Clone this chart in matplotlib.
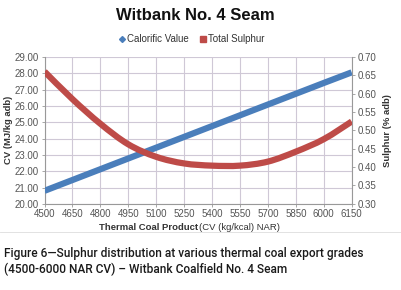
import matplotlib
matplotlib.use('Agg')
import matplotlib.pyplot as plt
from matplotlib.lines import Line2D
from matplotlib.path import Path
from matplotlib.patches import PathPatch

plt.rcParams['font.family'] = ['Liberation Sans', 'DejaVu Sans']

# values
cv_grades = [4500, 4650, 4800, 4950, 5100, 5250, 5400, 5550, 5700, 5850, 6000, 6150]
calorific = [20.80, 21.46, 22.12, 22.78, 23.44, 24.10, 24.76, 25.42, 26.08, 26.74, 27.40, 28.05]
sulphur = [0.660, 0.585, 0.518, 0.462, 0.428, 0.410, 0.404, 0.404, 0.415, 0.442, 0.476, 0.524]

blue = '#4a7ebb'
red = '#be4b48'
grid_col = '#cfc8d6'
tick_col = '#555555'


def smooth_path(xs, ys, t=1 / 6):
    # excel style "smoothed line": cubic bezier through every point
    verts = [(xs[0], ys[0])]
    codes = [Path.MOVETO]
    n = len(xs)
    for i in range(n - 1):
        x0, y0 = xs[max(i - 1, 0)], ys[max(i - 1, 0)]
        x1, y1 = xs[i], ys[i]
        x2, y2 = xs[i + 1], ys[i + 1]
        x3, y3 = xs[min(i + 2, n - 1)], ys[min(i + 2, n - 1)]
        verts += [(x1 + (x2 - x0) * t, y1 + (y2 - y0) * t),
                  (x2 - (x3 - x1) * t, y2 - (y3 - y1) * t),
                  (x2, y2)]
        codes += [Path.CURVE4] * 3
    return Path(verts, codes)


fig = plt.figure(figsize=(4.01, 2.90), dpi=100)
ax = fig.add_axes([0.111, 0.297, 0.766, 0.507])
ax2 = ax.twinx()

ax.plot(cv_grades, calorific, color=blue, lw=4.5, solid_capstyle='butt', zorder=3)
ax2.add_patch(PathPatch(smooth_path(cv_grades, sulphur), fill=False, edgecolor=red,
                        lw=4.5, capstyle='butt', joinstyle='round', zorder=3))

ax.set_xlim(4500, 6150)
ax.set_ylim(20, 29)
ax2.set_ylim(0.30, 0.70)
ax.set_xticks(cv_grades)
ax.set_yticks([20 + i for i in range(10)])
ax.set_yticklabels(['%.2f' % (20 + i) for i in range(10)])
ax2.set_yticks([0.30 + 0.05 * i for i in range(9)])
ax2.set_yticklabels(['%.2f' % (0.30 + 0.05 * i) for i in range(9)])

ax.grid(True, color=grid_col, lw=0.8)
ax.set_axisbelow(True)
for a in (ax, ax2):
    for s in a.spines.values():
        s.set_visible(False)
    a.tick_params(labelsize=7, colors='#999999', labelcolor=tick_col,
                  length=2.5, width=0.6, pad=1.5)
ax.spines['left'].set_visible(True)
ax.spines['left'].set_color('#999999')
ax.spines['bottom'].set_visible(True)
ax.spines['bottom'].set_color('#999999')
ax2.spines['right'].set_visible(True)
ax2.spines['right'].set_color('#999999')

ax.set_ylabel('CV (MJ/kg adb)', fontsize=6.8, fontweight='bold', color='#333333', labelpad=1)
ax2.set_ylabel('Sulphur (% adb)', fontsize=6.8, fontweight='bold', color='#333333', labelpad=5)

fig.text(0.495, 0.214, 'Thermal Coal Product', fontsize=6.8, fontweight='bold',
         color='#333333', ha='right', va='center')
fig.text(0.497, 0.214, '(CV (kg/kcal) NAR)', fontsize=6.8, color='#333333',
         ha='left', va='center')

fig.text(0.487, 0.948, 'Witbank No. 4 Seam', fontsize=12, fontweight='bold',
         color='#111111', ha='center', va='center')

handles = [Line2D([], [], marker='D', color=blue, ls='none', markersize=3),
           Line2D([], [], marker='s', color=red, ls='none', markersize=5)]
fig.legend(handles, ['Calorific Value', 'Total Sulphur'], loc='center',
           bbox_to_anchor=(0.478, 0.865), ncol=2, frameon=False, fontsize=7,
           handlelength=0.6, handletextpad=0.2, columnspacing=1.2,
           labelcolor='#333333')

fig.add_artist(Line2D([0, 1], [0.2, 0.2], color='#dddddd', lw=0.6))

fig.text(0.01, 0.098, 'Figure 6\u2014Sulphur distribution at various thermal coal export grades\n'
         '(4500-6000 NAR CV) \u2013 Witbank Coalfield No. 4 Seam',
         fontsize=8.6, fontweight='medium', family=['Roboto', 'DejaVu Sans'],
         color='#1a1a1a', ha='left', va='center', linespacing=1.22)

fig.savefig('out.png', dpi=100, facecolor='white')
